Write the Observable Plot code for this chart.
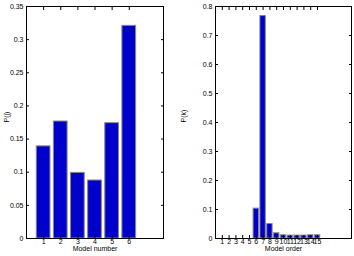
<!DOCTYPE html>
<html><head><meta charset="utf-8">
<script src="https://cdn.jsdelivr.net/npm/d3@7"></script>
<script src="https://cdn.jsdelivr.net/npm/@observablehq/plot@0.6"></script>
<style>
body{margin:0;background:#fff;}
#wrap{display:flex;width:354px;height:256px;}
svg{font-family:"Liberation Sans",Arial,sans-serif;}
</style></head><body><div id="wrap"></div>
<script>
const modelNumbers = [1, 2, 3, 4, 5, 6];
const modelProbs = [0.139, 0.1765, 0.099, 0.0875, 0.174, 0.3208];
const orderNumbers = [1, 2, 3, 4, 5, 6, 7, 8, 9, 10, 11, 12, 13, 14, 15];
const orderProbs = [0, 0, 0, 0, 0, 0.103, 0.767, 0.05, 0.018, 0.011, 0.01, 0.01, 0.01, 0.011, 0.011];
const leftYTicks = [0, 0.05, 0.1, 0.15, 0.2, 0.25, 0.3, 0.35];
const rightYTicks = [0, 0.1, 0.2, 0.3, 0.4, 0.5, 0.6, 0.7, 0.8];

const fillColor = "#0000cc";
const edgeColor = "#888888";

function panel({xs, ys, xDomain, yDomain, yTicks, xLabel, yLabel, ml, mr, mt, mb}) {
  const data = xs.map((x, i) => ({x, y: ys[i]}));
  return Plot.plot({
    width: 177, height: 256,
    marginLeft: ml, marginRight: mr, marginTop: mt, marginBottom: mb,
    style: {fontSize: "7px", fontFamily: "Liberation Sans, Arial, sans-serif", color: "#000", background: "#fff"},
    x: {domain: xDomain, label: null},
    y: {domain: yDomain, label: null},
    marks: [
      Plot.rectY(data, {x1: d => d.x - 0.4, x2: d => d.x + 0.4, y1: 0, y2: "y", fill: fillColor, stroke: edgeColor, strokeWidth: 1}),
      Plot.frame({stroke: "#000", strokeWidth: 1}),
      Plot.axisX(xs, {anchor: "bottom", tickSize: -3, tickPadding: 4, tickFormat: d => String(d), fontSize: 7}),
      Plot.axisX(xs, {anchor: "top", tickSize: -3, tickFormat: null, text: null}),
      Plot.axisY(yTicks, {anchor: "left", tickSize: -3, tickPadding: 6, tickFormat: d => String(d), fontSize: 7}),
      Plot.axisY(yTicks, {anchor: "right", tickSize: -3, tickFormat: null, text: null}),
      Plot.text([xLabel], {frameAnchor: "bottom", dy: 12, text: d => d, fontSize: 7}),
      Plot.text([yLabel], {frameAnchor: "left", dx: -ml + 6, rotate: -90, text: d => d, fontSize: 7})
    ]
  });
}

const wrap = document.getElementById("wrap");
wrap.appendChild(panel({
  xs: modelNumbers, ys: modelProbs, xDomain: [0, 8], yDomain: [0, 0.35], yTicks: leftYTicks,
  xLabel: "Model number", yLabel: "P(j)", ml: 26, mr: 14, mt: 6, mb: 18
}));
wrap.appendChild(panel({
  xs: orderNumbers, ys: orderProbs, xDomain: [0, 20], yDomain: [0, 0.8], yTicks: rightYTicks,
  xLabel: "Model order", yLabel: "P(k)", ml: 38, mr: 3, mt: 6, mb: 18
}));
</script></body></html>
